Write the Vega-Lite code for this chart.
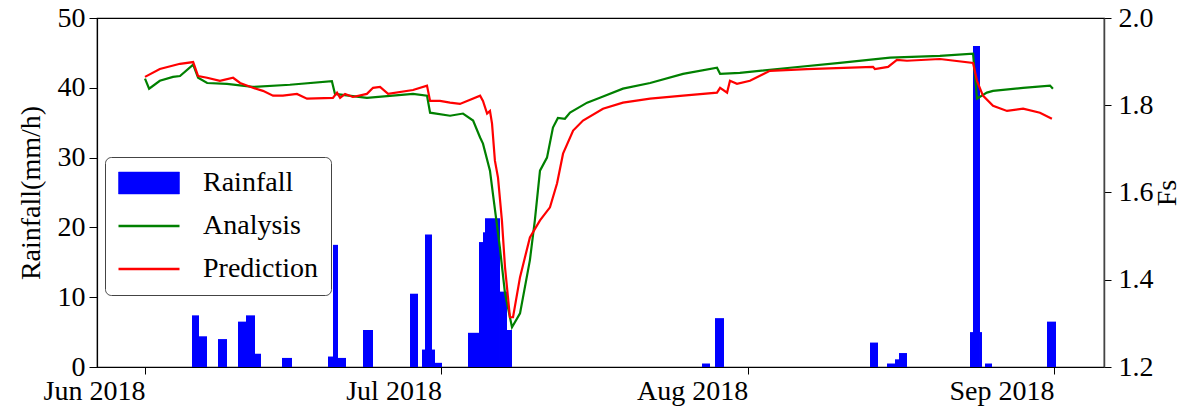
{
  "$schema": "https://vega.github.io/schema/vega-lite/v6.json",
  "width": 1007,
  "height": 349,
  "autosize": {"type": "none"},
  "padding": {"left": 97, "top": 18, "right": 84, "bottom": 46},
  "background": "white",
  "config": {
    "view": {"stroke": "black", "strokeWidth": 1.2},
    "font": "Liberation Serif",
    "axis": {
      "labelFont": "Liberation Serif",
      "labelFontSize": 28,
      "labelColor": "black",
      "titleFont": "Liberation Serif",
      "titleFontSize": 28,
      "titleFontWeight": "normal",
      "titleColor": "black",
      "tickColor": "black",
      "domainColor": "black",
      "grid": false,
      "tickSize": 7,
      "labelPadding": 4
    },
    "legend": {
      "title": null,
      "fillColor": "rgba(255,255,255,0.8)",
      "strokeColor": "#444444",
      "cornerRadius": 6,
      "padding": 12,
      "labelFont": "Liberation Serif",
      "labelFontSize": 28,
      "labelColor": "black",
      "labelOffset": 40,
      "symbolOffset": 18,
      "symbolSize": 3721,
      "rowPadding": 15
    }
  },
  "datasets": {
    "rain": [
      {"start": "2018-06-05T18:10", "end": "2018-06-06T11:11", "rain": 7.4},
      {"start": "2018-06-06T11:11", "end": "2018-06-07T06:36", "rain": 4.4},
      {"start": "2018-06-08T09:20", "end": "2018-06-09T07:12", "rain": 4.0},
      {"start": "2018-06-10T09:55", "end": "2018-06-11T05:21", "rain": 6.5},
      {"start": "2018-06-11T05:21", "end": "2018-06-12T03:13", "rain": 7.4},
      {"start": "2018-06-12T03:13", "end": "2018-06-12T17:47", "rain": 1.9},
      {"start": "2018-06-14T20:47", "end": "2018-06-15T21:05", "rain": 1.3},
      {"start": "2018-06-19T12:32", "end": "2018-06-20T00:40", "rain": 1.5},
      {"start": "2018-06-20T00:40", "end": "2018-06-20T12:49", "rain": 17.5},
      {"start": "2018-06-20T12:49", "end": "2018-06-21T08:15", "rain": 1.3},
      {"start": "2018-06-23T01:34", "end": "2018-06-24T01:51", "rain": 5.3},
      {"start": "2018-06-27T19:43", "end": "2018-06-28T15:10", "rain": 10.5},
      {"start": "2018-06-29T00:52", "end": "2018-06-29T08:10", "rain": 2.5},
      {"start": "2018-06-29T08:10", "end": "2018-06-30T01:10", "rain": 19.0},
      {"start": "2018-06-30T01:10", "end": "2018-06-30T08:27", "rain": 2.5},
      {"start": "2018-06-30T08:27", "end": "2018-07-01T01:28", "rain": 0.6},
      {"start": "2018-07-03T16:37", "end": "2018-07-04T19:21", "rain": 4.9},
      {"start": "2018-07-04T19:21", "end": "2018-07-05T05:04", "rain": 17.9},
      {"start": "2018-07-05T05:04", "end": "2018-07-05T09:55", "rain": 19.3},
      {"start": "2018-07-05T09:55", "end": "2018-07-06T22:21", "rain": 21.3},
      {"start": "2018-07-06T22:21", "end": "2018-07-07T15:21", "rain": 10.8},
      {"start": "2018-07-07T15:21", "end": "2018-07-08T03:30", "rain": 5.3},
      {"start": "2018-07-27T09:03", "end": "2018-07-28T04:28", "rain": 0.5},
      {"start": "2018-07-28T16:36", "end": "2018-07-29T14:28", "rain": 7.0},
      {"start": "2018-08-13T09:09", "end": "2018-08-14T04:34", "rain": 3.5},
      {"start": "2018-08-15T02:25", "end": "2018-08-15T21:52", "rain": 0.5},
      {"start": "2018-08-15T21:52", "end": "2018-08-16T07:35", "rain": 1.1},
      {"start": "2018-08-16T07:35", "end": "2018-08-17T03:02", "rain": 2.0},
      {"start": "2018-08-23T12:03", "end": "2018-08-23T19:20", "rain": 5.0},
      {"start": "2018-08-23T19:20", "end": "2018-08-24T12:20", "rain": 46.0},
      {"start": "2018-08-24T12:20", "end": "2018-08-24T17:12", "rain": 5.0},
      {"start": "2018-08-25T00:29", "end": "2018-08-25T17:30", "rain": 0.5},
      {"start": "2018-08-31T07:06", "end": "2018-09-01T04:58", "rain": 6.5}
    ],
    "fs": [
      {"series": "Analysis", "t": "2018-06-01T00:00", "fs": 1.861},
      {"series": "Analysis", "t": "2018-06-01T10:00", "fs": 1.838},
      {"series": "Analysis", "t": "2018-06-02T12:00", "fs": 1.856},
      {"series": "Analysis", "t": "2018-06-03T20:00", "fs": 1.865},
      {"series": "Analysis", "t": "2018-06-04T13:00", "fs": 1.867},
      {"series": "Analysis", "t": "2018-06-05T21:00", "fs": 1.893},
      {"series": "Analysis", "t": "2018-06-06T09:00", "fs": 1.863},
      {"series": "Analysis", "t": "2018-06-07T07:00", "fs": 1.851},
      {"series": "Analysis", "t": "2018-06-09T07:00", "fs": 1.849},
      {"series": "Analysis", "t": "2018-06-11T22:00", "fs": 1.842},
      {"series": "Analysis", "t": "2018-06-15T16:00", "fs": 1.847},
      {"series": "Analysis", "t": "2018-06-19T22:00", "fs": 1.855},
      {"series": "Analysis", "t": "2018-06-20T05:30", "fs": 1.826},
      {"series": "Analysis", "t": "2018-06-23T11:00", "fs": 1.817},
      {"series": "Analysis", "t": "2018-06-28T03:00", "fs": 1.826},
      {"series": "Analysis", "t": "2018-06-29T13:00", "fs": 1.822},
      {"series": "Analysis", "t": "2018-06-29T20:30", "fs": 1.783},
      {"series": "Analysis", "t": "2018-07-01T21:00", "fs": 1.776},
      {"series": "Analysis", "t": "2018-07-03T04:30", "fs": 1.781},
      {"series": "Analysis", "t": "2018-07-04T05:00", "fs": 1.765},
      {"series": "Analysis", "t": "2018-07-04T22:00", "fs": 1.726},
      {"series": "Analysis", "t": "2018-07-05T05:00", "fs": 1.712},
      {"series": "Analysis", "t": "2018-07-05T22:00", "fs": 1.650},
      {"series": "Analysis", "t": "2018-07-06T05:00", "fs": 1.598},
      {"series": "Analysis", "t": "2018-07-06T22:00", "fs": 1.474},
      {"series": "Analysis", "t": "2018-07-07T10:30", "fs": 1.369},
      {"series": "Analysis", "t": "2018-07-08T03:30", "fs": 1.291},
      {"series": "Analysis", "t": "2018-07-08T23:00", "fs": 1.323},
      {"series": "Analysis", "t": "2018-07-09T23:00", "fs": 1.445},
      {"series": "Analysis", "t": "2018-07-10T11:00", "fs": 1.536},
      {"series": "Analysis", "t": "2018-07-10T23:30", "fs": 1.650},
      {"series": "Analysis", "t": "2018-07-11T16:30", "fs": 1.680},
      {"series": "Analysis", "t": "2018-07-12T07:00", "fs": 1.749},
      {"series": "Analysis", "t": "2018-07-12T19:00", "fs": 1.771},
      {"series": "Analysis", "t": "2018-07-13T12:00", "fs": 1.769},
      {"series": "Analysis", "t": "2018-07-14T00:30", "fs": 1.783},
      {"series": "Analysis", "t": "2018-07-15T18:00", "fs": 1.806},
      {"series": "Analysis", "t": "2018-07-17T01:00", "fs": 1.817},
      {"series": "Analysis", "t": "2018-07-19T09:00", "fs": 1.838},
      {"series": "Analysis", "t": "2018-07-22T03:00", "fs": 1.851},
      {"series": "Analysis", "t": "2018-07-25T11:00", "fs": 1.872},
      {"series": "Analysis", "t": "2018-07-28T21:30", "fs": 1.886},
      {"series": "Analysis", "t": "2018-07-29T05:00", "fs": 1.872},
      {"series": "Analysis", "t": "2018-07-31T05:00", "fs": 1.874},
      {"series": "Analysis", "t": "2018-08-05T07:00", "fs": 1.886},
      {"series": "Analysis", "t": "2018-08-10T08:00", "fs": 1.897},
      {"series": "Analysis", "t": "2018-08-15T10:00", "fs": 1.909},
      {"series": "Analysis", "t": "2018-08-20T11:00", "fs": 1.913},
      {"series": "Analysis", "t": "2018-08-23T19:30", "fs": 1.918},
      {"series": "Analysis", "t": "2018-08-24T05:00", "fs": 1.815},
      {"series": "Analysis", "t": "2018-08-25T05:00", "fs": 1.829},
      {"series": "Analysis", "t": "2018-08-25T20:00", "fs": 1.833},
      {"series": "Analysis", "t": "2018-08-28T21:00", "fs": 1.840},
      {"series": "Analysis", "t": "2018-08-31T14:30", "fs": 1.845},
      {"series": "Analysis", "t": "2018-08-31T21:30", "fs": 1.838},
      {"series": "Prediction", "t": "2018-06-01T00:00", "fs": 1.865},
      {"series": "Prediction", "t": "2018-06-02T12:00", "fs": 1.883},
      {"series": "Prediction", "t": "2018-06-04T13:00", "fs": 1.895},
      {"series": "Prediction", "t": "2018-06-05T21:00", "fs": 1.899},
      {"series": "Prediction", "t": "2018-06-06T09:00", "fs": 1.867},
      {"series": "Prediction", "t": "2018-06-07T07:00", "fs": 1.863},
      {"series": "Prediction", "t": "2018-06-08T14:00", "fs": 1.856},
      {"series": "Prediction", "t": "2018-06-09T22:00", "fs": 1.863},
      {"series": "Prediction", "t": "2018-06-10T15:00", "fs": 1.851},
      {"series": "Prediction", "t": "2018-06-11T22:00", "fs": 1.840},
      {"series": "Prediction", "t": "2018-06-12T22:30", "fs": 1.833},
      {"series": "Prediction", "t": "2018-06-13T23:00", "fs": 1.822},
      {"series": "Prediction", "t": "2018-06-14T23:00", "fs": 1.822},
      {"series": "Prediction", "t": "2018-06-16T09:00", "fs": 1.826},
      {"series": "Prediction", "t": "2018-06-17T09:30", "fs": 1.815},
      {"series": "Prediction", "t": "2018-06-20T00:30", "fs": 1.817},
      {"series": "Prediction", "t": "2018-06-20T10:30", "fs": 1.829},
      {"series": "Prediction", "t": "2018-06-20T18:00", "fs": 1.817},
      {"series": "Prediction", "t": "2018-06-21T06:00", "fs": 1.826},
      {"series": "Prediction", "t": "2018-06-22T01:00", "fs": 1.819},
      {"series": "Prediction", "t": "2018-06-23T11:00", "fs": 1.826},
      {"series": "Prediction", "t": "2018-06-24T02:00", "fs": 1.840},
      {"series": "Prediction", "t": "2018-06-24T19:00", "fs": 1.842},
      {"series": "Prediction", "t": "2018-06-25T14:30", "fs": 1.826},
      {"series": "Prediction", "t": "2018-06-28T03:00", "fs": 1.835},
      {"series": "Prediction", "t": "2018-06-29T13:00", "fs": 1.845},
      {"series": "Prediction", "t": "2018-06-29T20:30", "fs": 1.810},
      {"series": "Prediction", "t": "2018-06-30T20:30", "fs": 1.810},
      {"series": "Prediction", "t": "2018-07-01T21:00", "fs": 1.806},
      {"series": "Prediction", "t": "2018-07-02T21:00", "fs": 1.803},
      {"series": "Prediction", "t": "2018-07-04T22:00", "fs": 1.822},
      {"series": "Prediction", "t": "2018-07-05T05:00", "fs": 1.810},
      {"series": "Prediction", "t": "2018-07-05T15:00", "fs": 1.781},
      {"series": "Prediction", "t": "2018-07-05T22:00", "fs": 1.787},
      {"series": "Prediction", "t": "2018-07-06T03:00", "fs": 1.758},
      {"series": "Prediction", "t": "2018-07-06T10:00", "fs": 1.673},
      {"series": "Prediction", "t": "2018-07-06T17:30", "fs": 1.634},
      {"series": "Prediction", "t": "2018-07-07T03:00", "fs": 1.536},
      {"series": "Prediction", "t": "2018-07-07T10:30", "fs": 1.429},
      {"series": "Prediction", "t": "2018-07-07T22:30", "fs": 1.314},
      {"series": "Prediction", "t": "2018-07-08T06:00", "fs": 1.314},
      {"series": "Prediction", "t": "2018-07-08T23:00", "fs": 1.406},
      {"series": "Prediction", "t": "2018-07-09T23:00", "fs": 1.497},
      {"series": "Prediction", "t": "2018-07-10T23:30", "fs": 1.536},
      {"series": "Prediction", "t": "2018-07-11T23:45", "fs": 1.566},
      {"series": "Prediction", "t": "2018-07-12T17:00", "fs": 1.621},
      {"series": "Prediction", "t": "2018-07-13T07:30", "fs": 1.689},
      {"series": "Prediction", "t": "2018-07-14T08:00", "fs": 1.742},
      {"series": "Prediction", "t": "2018-07-15T08:00", "fs": 1.765},
      {"series": "Prediction", "t": "2018-07-17T08:30", "fs": 1.792},
      {"series": "Prediction", "t": "2018-07-19T09:00", "fs": 1.806},
      {"series": "Prediction", "t": "2018-07-22T03:00", "fs": 1.815},
      {"series": "Prediction", "t": "2018-07-25T11:00", "fs": 1.822},
      {"series": "Prediction", "t": "2018-07-28T21:30", "fs": 1.829},
      {"series": "Prediction", "t": "2018-07-29T05:00", "fs": 1.840},
      {"series": "Prediction", "t": "2018-07-29T22:00", "fs": 1.829},
      {"series": "Prediction", "t": "2018-07-30T05:00", "fs": 1.856},
      {"series": "Prediction", "t": "2018-07-30T22:00", "fs": 1.849},
      {"series": "Prediction", "t": "2018-08-01T05:30", "fs": 1.856},
      {"series": "Prediction", "t": "2018-08-03T06:00", "fs": 1.879},
      {"series": "Prediction", "t": "2018-08-07T00:00", "fs": 1.883},
      {"series": "Prediction", "t": "2018-08-13T16:30", "fs": 1.888},
      {"series": "Prediction", "t": "2018-08-13T21:00", "fs": 1.883},
      {"series": "Prediction", "t": "2018-08-15T05:00", "fs": 1.888},
      {"series": "Prediction", "t": "2018-08-16T02:30", "fs": 1.904},
      {"series": "Prediction", "t": "2018-08-17T03:00", "fs": 1.902},
      {"series": "Prediction", "t": "2018-08-20T11:00", "fs": 1.906},
      {"series": "Prediction", "t": "2018-08-23T19:30", "fs": 1.897},
      {"series": "Prediction", "t": "2018-08-24T05:00", "fs": 1.856},
      {"series": "Prediction", "t": "2018-08-24T19:30", "fs": 1.822},
      {"series": "Prediction", "t": "2018-08-25T20:00", "fs": 1.799},
      {"series": "Prediction", "t": "2018-08-27T06:00", "fs": 1.787},
      {"series": "Prediction", "t": "2018-08-28T21:00", "fs": 1.792},
      {"series": "Prediction", "t": "2018-08-30T14:00", "fs": 1.783},
      {"series": "Prediction", "t": "2018-08-31T19:00", "fs": 1.769}
    ]
  },
  "layer": [
    {
      "data": {"name": "rain"},
      "mark": {"type": "bar", "cornerRadius": 0},
      "encoding": {
        "x": {
          "field": "start",
          "type": "temporal",
          "scale": {"domain": [
            {"year": 2018, "month": 5, "date": 27, "hours": 3, "minutes": 24},
            {"year": 2018, "month": 9, "date": 6, "hours": 1, "minutes": 34}
          ]},
          "axis": {
            "title": null,
            "values": [
              {"year": 2018, "month": 6, "date": 1},
              {"year": 2018, "month": 7, "date": 1},
              {"year": 2018, "month": 8, "date": 1},
              {"year": 2018, "month": 9, "date": 1}
            ],
            "format": "%b %Y",
            "labelAlign": "right",
            "labelFlush": false,
            "labelOverlap": false,
            "domain": false,
            "tickSize": 7,
            "labelPadding": 3
          }
        },
        "x2": {"field": "end"},
        "y": {
          "field": "rain",
          "type": "quantitative",
          "scale": {"domain": [0, 50]},
          "axis": {
            "title": "Rainfall(mm/h)",
            "values": [0, 10, 20, 30, 40, 50],
            "tickSize": 8,
            "labelPadding": 4,
            "titlePadding": 12,
            "domainColor": "black",
            "domainWidth": 1.2
          }
        },
        "y2": {"datum": 0},
        "color": {
          "datum": "Rainfall",
          "type": "nominal",
          "scale": {"domain": ["Rainfall", "Analysis", "Prediction"], "range": ["#0000ff", "#008000", "#ff0000"]},
          "legend": {
            "title": null,
            "orient": "none",
            "legendX": 8,
            "legendY": 139,
            "direction": "vertical",
            "symbolSize": 3721,
            "symbolOffset": 18,
            "labelOffset": 40,
            "rowPadding": 15,
            "encode": {
              "symbols": {
                "update": {
                  "shape": {"signal": "datum.value === 'Rainfall' ? 'M-1,-0.36L1,-0.36L1,0.36L-1,0.36Z' : 'M-1,0L1,0'"},
                  "fill": {"signal": "datum.value === 'Rainfall' ? '#0000ff' : 'transparent'"},
                  "stroke": {"signal": "datum.value === 'Rainfall' ? '#0000ff' : (datum.value === 'Analysis' ? '#008000' : '#ff0000')"},
                  "strokeWidth": {"signal": "datum.value === 'Rainfall' ? 0.5 : 2.5"},
                  "opacity": {"value": 1}
                }
              }
            }
          }
        }
      }
    },
    {
      "data": {"name": "fs"},
      "mark": {"type": "line", "strokeWidth": 2.2},
      "encoding": {
        "x": {"field": "t", "type": "temporal"},
        "y": {
          "field": "fs",
          "type": "quantitative",
          "scale": {"domain": [1.2, 2.0]},
          "axis": {
            "orient": "right",
            "title": "Fs",
            "titleAngle": 270,
            "values": [1.2, 1.4, 1.6, 1.8, 2.0],
            "format": ".1f",
            "tickSize": 7,
            "labelPadding": 7,
            "titlePadding": 28,
            "domainColor": "#444444",
            "domainWidth": 1.5
          }
        },
        "color": {
          "field": "series",
          "type": "nominal",
          "legend": {
            "title": null,
            "orient": "none",
            "legendX": 8,
            "legendY": 139,
            "direction": "vertical",
            "symbolSize": 3721,
            "symbolOffset": 18,
            "labelOffset": 40,
            "rowPadding": 15,
            "encode": {
              "symbols": {
                "update": {
                  "shape": {"signal": "datum.value === 'Rainfall' ? 'M-1,-0.36L1,-0.36L1,0.36L-1,0.36Z' : 'M-1,0L1,0'"},
                  "fill": {"signal": "datum.value === 'Rainfall' ? '#0000ff' : 'transparent'"},
                  "stroke": {"signal": "datum.value === 'Rainfall' ? '#0000ff' : (datum.value === 'Analysis' ? '#008000' : '#ff0000')"},
                  "strokeWidth": {"signal": "datum.value === 'Rainfall' ? 0.5 : 2.5"},
                  "opacity": {"value": 1}
                }
              }
            }
          }
        }
      }
    }
  ],
  "resolve": {"scale": {"y": "independent"}}
}
